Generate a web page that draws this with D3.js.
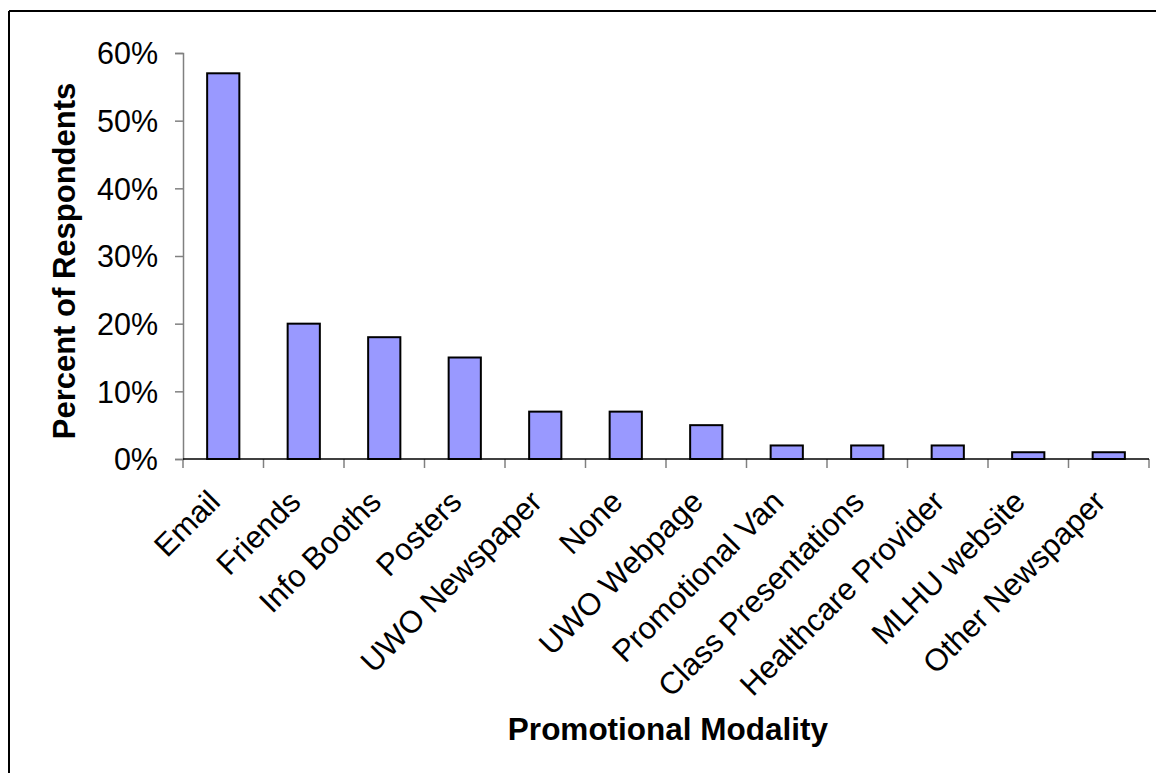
<!DOCTYPE html>
<html>
<head>
<meta charset="utf-8">
<script src="https://cdn.jsdelivr.net/npm/d3@7"></script>
<style>
  html, body { margin: 0; padding: 0; background: #fff; }
  svg { display: block; font-family: Arial, "Liberation Sans", sans-serif; }
</style>
</head>
<body>
<svg id="chart" width="1156" height="773"></svg>
<script>
// Share of respondents who heard about the service through each channel
const categories = [
  "Email", "Friends", "Info Booths", "Posters", "UWO Newspaper", "None",
  "UWO Webpage", "Promotional Van", "Class Presentations",
  "Healthcare Provider", "MLHU website", "Other Newspaper"
];
const values = [0.57, 0.20, 0.18, 0.15, 0.07, 0.07, 0.05, 0.02, 0.02, 0.02, 0.01, 0.01];
const yTicks = [0, 0.1, 0.2, 0.3, 0.4, 0.5, 0.6];
const yTitle = "Percent of Respondents";
const xTitle = "Promotional Modality";

const svg = d3.select("#chart");
const W = 1156, H = 773;
const plot = { left: 183, right: 1149, top: 53, bottom: 459 };

// Outer frame (top and left edges are visible)
svg.append("line").attr("x1", 9).attr("x2", W + 5).attr("y1", 11).attr("y2", 11)
  .attr("stroke", "#000").attr("stroke-width", 2);
svg.append("line").attr("x1", 9).attr("x2", 9).attr("y1", 11).attr("y2", H + 5)
  .attr("stroke", "#000").attr("stroke-width", 2);

const x = d3.scaleBand()
  .domain(categories)
  .range([plot.left, plot.right])
  .paddingInner(0.6)
  .paddingOuter(0.3);

const y = d3.scaleLinear()
  .domain([0, 0.6])
  .range([plot.bottom, plot.top]);

// Y axis
const yAxis = svg.append("g")
  .attr("transform", `translate(${plot.left},0)`)
  .call(d3.axisLeft(y).tickValues(yTicks).tickFormat(d3.format(".0%")).tickSize(8).tickPadding(17));
yAxis.select(".domain").attr("stroke", "#808080").attr("stroke-width", 1.5);
yAxis.selectAll(".tick line").attr("stroke", "#808080").attr("stroke-width", 1.5);
yAxis.selectAll(".tick text")
  .attr("fill", "#000")
  .style("font-size", "30.5px")
  .attr("dy", "0.35em");

// Bars
svg.append("g").selectAll("rect")
  .data(categories)
  .join("rect")
  .attr("x", d => x(d))
  .attr("y", (d, i) => y(values[i]))
  .attr("width", x.bandwidth())
  .attr("height", (d, i) => y(0) - y(values[i]))
  .attr("fill", "#9999FF")
  .attr("stroke", "#000")
  .attr("stroke-width", 2);

// X axis: category boundary ticks
const step = x.step();
const bounds = categories.map(c => x(c) + x.bandwidth() / 2 - step / 2)
  .concat([x(categories[categories.length - 1]) + x.bandwidth() / 2 + step / 2]);
svg.append("g").selectAll("line")
  .data(bounds)
  .join("line")
  .attr("x1", d => d).attr("x2", d => d)
  .attr("y1", plot.bottom).attr("y2", plot.bottom + 9)
  .attr("stroke", "#808080").attr("stroke-width", 1.5);
svg.append("line")
  .attr("x1", plot.left).attr("x2", plot.right)
  .attr("y1", plot.bottom).attr("y2", plot.bottom)
  .attr("stroke", "#000").attr("stroke-width", 1.5);

// Rotated category labels
svg.append("g").selectAll("text")
  .data(categories)
  .join("text")
  .attr("transform", d => `translate(${x(d) + x.bandwidth() / 2 - 9},${plot.bottom + 37}) rotate(-45)`)
  .attr("text-anchor", "end")
  .attr("dy", "0.35em")
  .style("font-size", "31px")
  .attr("fill", "#000")
  .text(d => d);

// Axis titles
svg.append("text")
  .attr("transform", `translate(75,${(plot.top + plot.bottom) / 2 + 5}) rotate(-90)`)
  .attr("text-anchor", "middle")
  .style("font-size", "31px")
  .style("font-weight", "bold")
  .text(yTitle);

svg.append("text")
  .attr("x", 668)
  .attr("y", 740)
  .attr("text-anchor", "middle")
  .style("font-size", "31.5px")
  .style("font-weight", "bold")
  .text(xTitle);
</script>
</body>
</html>
